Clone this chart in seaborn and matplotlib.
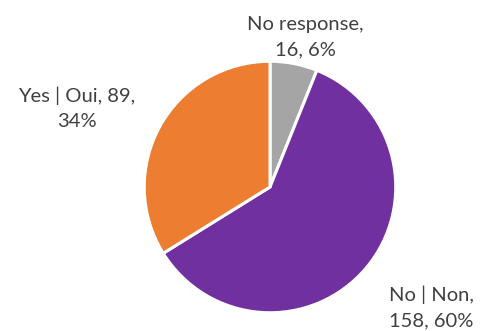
import matplotlib
matplotlib.use("Agg")
import matplotlib.pyplot as plt
import seaborn as sns

categories = ["No response", "No | Non", "Yes | Oui"]
counts = [16, 158, 89]
percents = [6, 60, 34]
colors = ["#A5A5A5", "#7030A0", "#ED7D31"]
label_texts = ["No response,\n16, 6%", "No | Non,\n158, 60%", "Yes | Oui, 89,\n34%"]

sns.set_theme(style="white")
plt.rcParams["font.family"] = ["Lato", "DejaVu Sans"]

W, H = 481, 331
fig = plt.figure(figsize=(W / 100, H / 100), dpi=100)
fig.patch.set_facecolor("white")

cx, cy, r = 270, 187, 127
ax = fig.add_axes([(cx - r) / W, (H - cy - r) / H, 2 * r / W, 2 * r / H])
ax.pie(counts, colors=colors, startangle=90, counterclock=False,
       radius=1, wedgeprops=dict(edgecolor="white", linewidth=2.2))
ax.set_xlim(-1.01, 1.01)
ax.set_ylim(-1.01, 1.01)
ax.set_aspect("equal")
ax.axis("off")

# label anchor points (pixels, top-left origin)
label_pos = [(305, 37), (431, 307), (77, 108)]
for txt, (px, py) in zip(label_texts, label_pos):
    fig.text(px / W, 1 - py / H, txt, ha="center", va="center",
             fontsize=14.5, color="#404040", linespacing=1.6)

fig.savefig("out.png", dpi=100)
